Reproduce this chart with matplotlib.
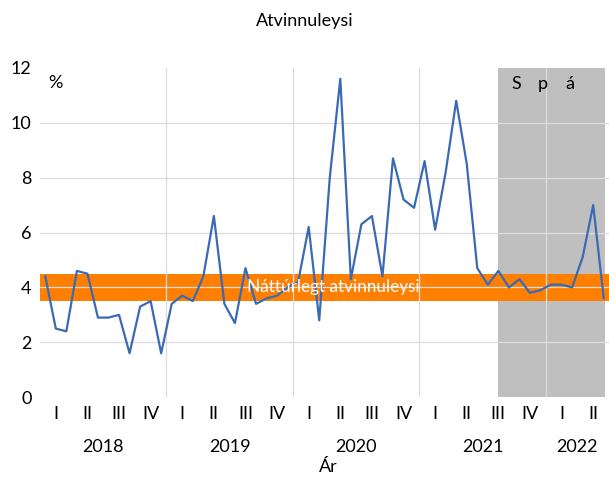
import numpy as np
import matplotlib
matplotlib.use("Agg")
import matplotlib.pyplot as plt

plt.rcParams['font.family'] = ['Lato', 'DejaVu Sans']

# monthly unemployment, Jan 2018 - Jun 2022 (%)
unemployment = [4.4, 2.5, 2.4, 4.6, 4.5, 2.9, 2.9, 3.0, 1.6, 3.3, 3.5, 1.6,
                3.4, 3.7, 3.5, 4.4, 6.6, 3.4, 2.7, 4.7, 3.4, 3.6, 3.7, 4.0,
                4.2, 6.2, 2.8, 8.0, 11.6, 4.3, 6.3, 6.6, 4.4, 8.7, 7.2, 6.9,
                8.6, 6.1, 8.2, 10.8, 8.5, 4.7, 4.1, 4.6, 4.0, 4.3, 3.8, 3.9,
                4.1, 4.1, 4.0, 5.1, 7.0, 3.6]
years = ['2018', '2019', '2020', '2021', '2022']
quarters = ['I', 'II', 'III', 'IV']
natural_low, natural_high = 3.5, 4.5
natural_label = 'Náttúrlegt atvinnuleysi'
forecast_start = 43.5  # month position where the forecast ("Spá") begins

n = len(unemployment)
x = np.arange(n) + 0.5

fig = plt.figure(figsize=(6.09, 4.80), dpi=100)
ax = fig.add_axes([40 / 609, 82.8 / 480, 569 / 609, 329.4 / 480])

ax.axvspan(forecast_start, 53.6, color='#BFBFBF', lw=0, zorder=1)
ax.axhspan(natural_low, natural_high, color='#FF8000', lw=0, zorder=1.2)

for yv in range(2, 12, 2):
    ax.axhline(yv, color='#DCDCDC', lw=0.9, zorder=2)
for m in range(12, n, 12):
    ax.axvline(m, color='#DCDCDC', lw=0.9, zorder=2)

ax.plot(x, unemployment, color='#3A6AB4', lw=1.6, zorder=3)

ax.text(27.8, (natural_low + natural_high) / 2, natural_label, color='white',
        fontsize=12.3, ha='center', va='center', zorder=4)

ax.set_xlim(0, 54)
ax.set_ylim(0, 12)
ax.set_yticks(range(0, 13, 2))
ax.tick_params(axis='y', length=0, pad=6, labelsize=13)

# quarter labels at quarter centres
q_labels = [quarters[i % 4] for i in range(int(np.ceil(n / 3)))]
ax.set_xticks(np.arange(len(q_labels)) * 3 + 1.5)
ax.set_xticklabels(q_labels)
ax.tick_params(axis='x', length=0, pad=6, labelsize=13)

trans = ax.get_xaxis_transform()
for k, yr in enumerate(years):
    start = k * 12
    end = min(start + 12, n)
    ax.text((start + end) / 2, -0.152, yr, transform=trans,
            ha='center', va='center', fontsize=13)

for s in ax.spines.values():
    s.set_visible(False)

ax.text(0.028, 0.955, '%', transform=ax.transAxes, fontsize=13,
        ha='center', va='center')
for k, ch in enumerate('Spá'):
    ax.text(45.2 + k * 2.52, 11.4, ch, fontsize=13, ha='center', va='center',
            zorder=4)

fig.text(305 / 609, 1 - 21 / 480, 'Atvinnuleysi', fontsize=13,
         ha='center', va='center')
fig.text(328 / 609, 1 - 467 / 480, 'Ár', fontsize=13, ha='center', va='center')

fig.savefig('out.png', dpi=100)
